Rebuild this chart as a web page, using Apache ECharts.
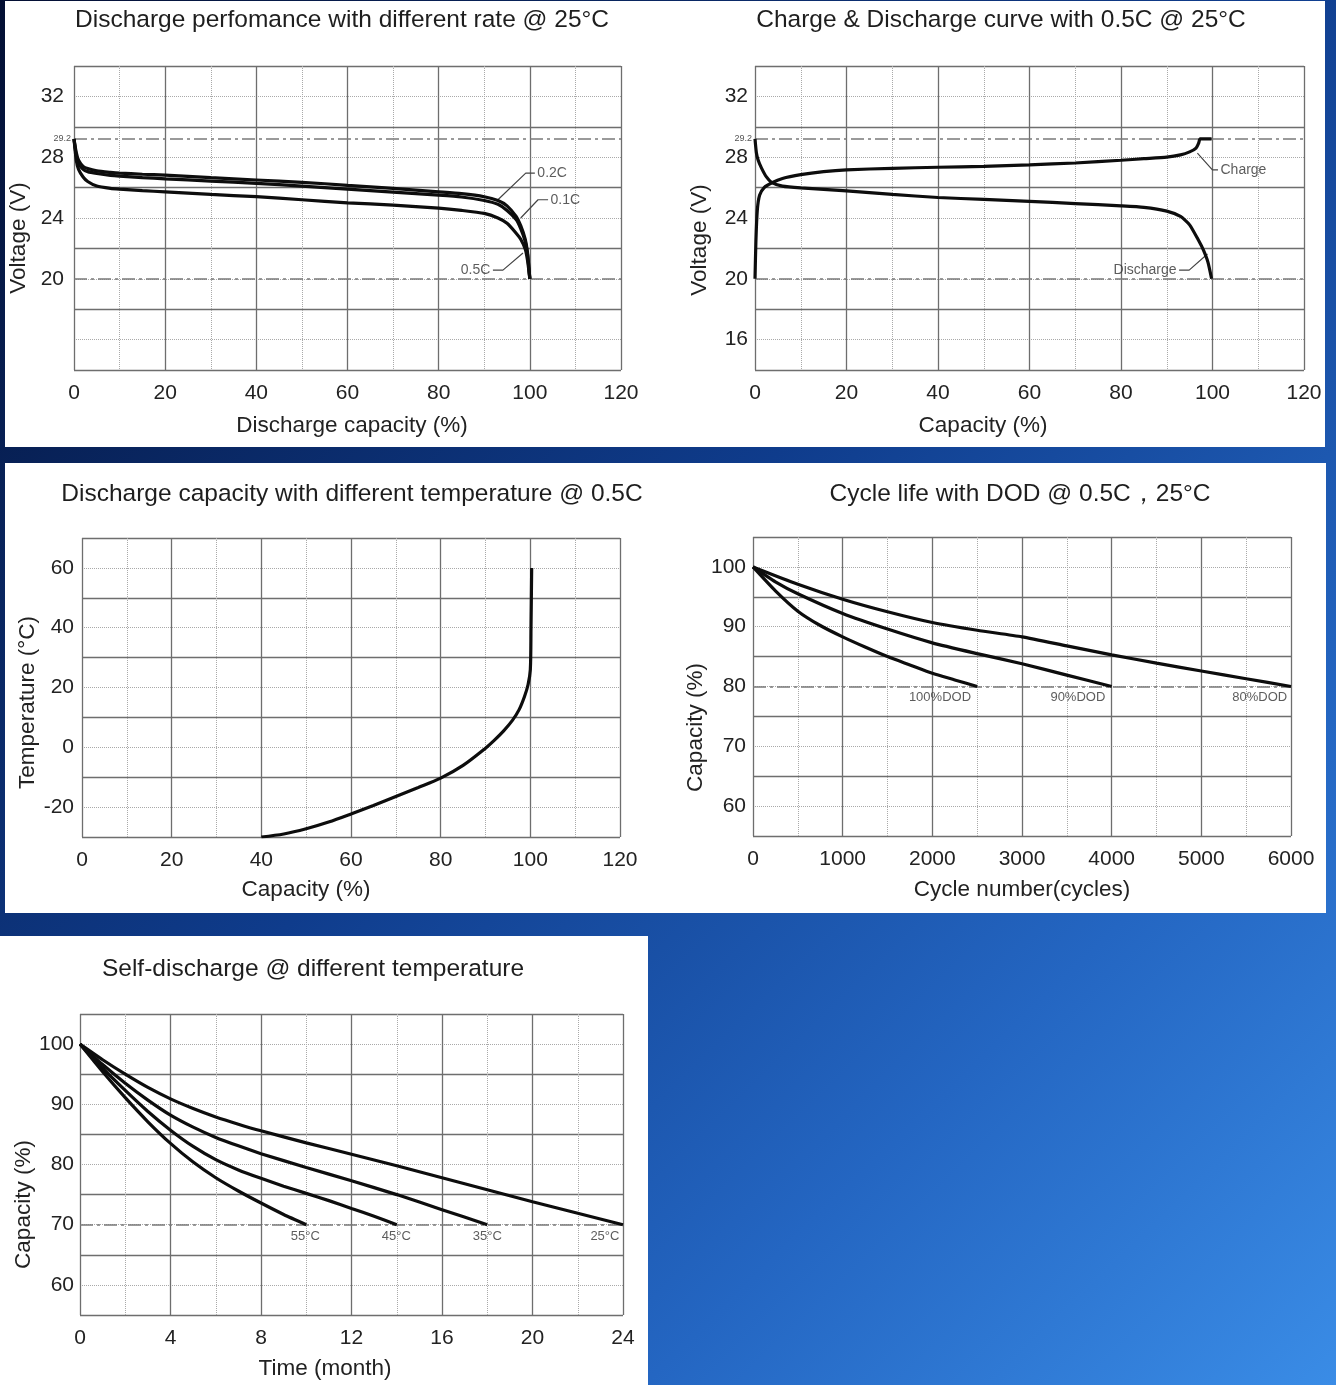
<!DOCTYPE html>
<html><head><meta charset="utf-8">
<script src="https://cdn.jsdelivr.net/npm/echarts@6/dist/echarts.min.js"></script>
<style>html,body{margin:0;padding:0;background:#0b2a66;}#c{width:1336px;height:1385px;}</style>
</head><body><div id="c"></div>
<script>
// ---------- Panel 1: discharge performance with different rate ----------
const rateCap = [0, 0.5, 1, 2, 3, 5, 8, 10, 15, 20, 30, 40, 50, 60, 70, 80, 85, 90, 93, 95, 97, 98, 99, 99.5, 100];
const rate02V = [29.2, 28.3, 27.8, 27.4, 27.25, 27.1, 27.0, 26.95, 26.88, 26.82, 26.65, 26.5, 26.35, 26.15, 25.95, 25.72, 25.6, 25.4, 25.15, 24.8, 24.1, 23.5, 22.6, 21.7, 20];
const rate01V = [29.2, 28.1, 27.6, 27.2, 27.05, 26.93, 26.8, 26.75, 26.66, 26.58, 26.43, 26.28, 26.1, 25.9, 25.7, 25.5, 25.38, 25.15, 24.9, 24.5, 23.9, 23.3, 22.45, 21.6, 20];
const rate05V = [29.2, 27.8, 27.2, 26.7, 26.4, 26.1, 25.95, 25.9, 25.8, 25.72, 25.55, 25.4, 25.2, 25.0, 24.85, 24.65, 24.5, 24.3, 24.0, 23.65, 23.0, 22.6, 21.95, 21.2, 20];
const leader02 = [[101.1, 26.95], [99.1, 26.95], [93.0, 25.2]];
const leader01 = [[104.0, 25.2], [101.8, 25.2], [98.0, 24.0]];
const leader05 = [[91.9, 20.57], [94.1, 20.57], [98.5, 21.7]];
const voltTicks1 = [20, 24, 28, 32];

// ---------- Panel 2: charge & discharge curve ----------
const chgCap = [0, 0.2, 0.5, 1, 2, 3.6, 6, 10, 15, 20, 30, 40, 50, 60, 70, 80, 85, 90, 93, 95, 96.4, 97, 97.3, 99.8];
const chgV = [20, 22.5, 24.5, 25.5, 26.0, 26.3, 26.6, 26.85, 27.05, 27.17, 27.27, 27.34, 27.4, 27.5, 27.62, 27.8, 27.9, 28.0, 28.15, 28.35, 28.6, 28.95, 29.2, 29.2];
const dchCap = [0, 0.3, 0.7, 1.4, 2.5, 3.6, 6, 10, 20, 30, 40, 50, 60, 70, 80, 85, 90, 93, 95, 97, 98, 99, 99.8];
const dchV = [29.2, 28.3, 27.8, 27.3, 26.7, 26.35, 26.1, 25.98, 25.78, 25.55, 25.35, 25.22, 25.1, 24.95, 24.8, 24.7, 24.45, 24.1, 23.55, 22.5, 21.9, 21.1, 20];
const chargeLeader = [[101.2, 27.17], [99.98, 27.17], [96.7, 28.27]];
const dischargeLeader = [[92.7, 20.57], [94.9, 20.57], [98.9, 21.63]];
const voltTicks2 = [16, 20, 24, 28, 32];

// ---------- Panel 3: capacity vs temperature ----------
const tempCap = [40, 45, 50, 55, 60, 65, 70, 75, 80, 85, 90, 92, 94, 96, 97.5, 98.7, 99.5, 100, 100.15, 100.3];
const tempC = [-30, -29, -27.25, -25, -22.3, -19.45, -16.45, -13.45, -10.3, -6.05, -0.3, 2.4, 5.4, 9.0, 12.6, 17, 21, 26, 40, 60];
const tempTicks = [-20, 0, 20, 40, 60];

// ---------- Panel 4: cycle life with DOD ----------
const dod100Cyc = [0, 250, 500, 750, 1000, 1250, 1500, 1750, 2000, 2250, 2500];
const dod100Cap = [100, 96, 92.6, 90.2, 88.3, 86.6, 85, 83.6, 82.2, 81.1, 80];
const dod90Cyc = [0, 250, 500, 1000, 1500, 2000, 2500, 3000, 3500, 4000];
const dod90Cap = [100, 97.5, 95.5, 92.2, 89.6, 87.3, 85.5, 83.8, 81.9, 80];
const dod80Cyc = [0, 500, 1000, 1500, 2000, 2500, 3000, 3500, 4000, 4500, 5000, 5500, 6000];
const dod80Cap = [100, 97.1, 94.6, 92.5, 90.7, 89.4, 88.3, 86.8, 85.3, 83.9, 82.6, 81.3, 80];
const dodLabels = [['100%DOD', 2085, 78.1], ['90%DOD', 3623, 78.1], ['80%DOD', 5652, 78.1]];
const capTicks = [60, 70, 80, 90, 100];

// ---------- Panel 5: self-discharge ----------
const t25Month = [0, 1, 2, 3, 4, 5, 6, 7, 8, 10, 12, 14, 16, 18, 20, 22, 24];
const t25Cap = [100, 97.4, 95.0, 92.8, 90.9, 89.3, 87.9, 86.7, 85.6, 83.6, 81.7, 79.8, 77.8, 75.8, 73.8, 71.9, 70];
const t35Month = [0, 1, 2, 3, 4, 5, 6, 7, 8, 10, 12, 14, 16, 18];
const t35Cap = [100, 96.6, 93.5, 90.7, 88.2, 86.2, 84.5, 83.1, 81.8, 79.5, 77.3, 75.0, 72.5, 70];
const t45Month = [0, 1, 2, 3, 4, 5, 6, 7, 8, 9, 10, 11, 12, 13, 14];
const t45Cap = [100, 96.0, 92.3, 88.8, 85.7, 83.0, 80.8, 79.1, 77.7, 76.4, 75.2, 74.0, 72.7, 71.4, 70];
const t55Month = [0, 1, 2, 3, 4, 5, 6, 7, 8, 9, 10];
const t55Cap = [100, 95.4, 91.1, 87.1, 83.5, 80.4, 77.8, 75.6, 73.6, 71.7, 70];
const tempLabels = [['55°C', 9.96, 68.0], ['45°C', 13.98, 68.0], ['35°C', 18.0, 68.0], ['25°C', 23.2, 68.0]];

const titles = [
  ['Discharge perfomance with different rate @ 25°C', 342, 20],
  ['Charge & Discharge curve with 0.5C @ 25°C', 1001, 20],
  ['Discharge capacity with different temperature @ 0.5C', 352, 494],
  ['Cycle life with DOD @ 0.5C，25°C', 1020, 494],
  ['Self-discharge @ different temperature', 313, 969]
];

// ---------- build ----------
const FONT = '"Liberation Sans", Arial, Helvetica, sans-serif';
const SOLID = '#6e6e6e', DOT = '#a9a9a9', INK = '#0d0d0d', CLEAR = 'rgba(0,0,0,0)';
const grids = [
  {left: 74, top: 66, width: 547, height: 304},
  {left: 755, top: 66, width: 549, height: 304},
  {left: 82, top: 538, width: 538, height: 299},
  {left: 753, top: 537, width: 538, height: 299},
  {left: 80, top: 1014, width: 543, height: 301}
].map(g => Object.assign({containLabel: false, outerBoundsMode: 'none'}, g));
const xAxes = [], yAxes = [], series = [];
const txt = {fontFamily: FONT, color: '#222', fontSize: 21};
const nameTxt = {fontFamily: FONT, color: '#222', fontSize: 22.5};

function panel(gi, xc, yc) {
  xAxes.push({
    type: 'value', gridIndex: gi, position: 'bottom', min: xc.min, max: xc.max, interval: xc.interval,
    axisLine: {show: false}, axisTick: {show: false},
    axisLabel: Object.assign({margin: 13, hideOverlap: false, showMinLabel: true, showMaxLabel: true,
      formatter: v => String(v)}, txt),
    splitLine: {show: true, lineStyle: {color: SOLID, width: 1.3}},
    minorTick: {show: false, splitNumber: 2},
    minorSplitLine: {show: true, lineStyle: {color: DOT, width: 1, type: 'dotted'}},
    name: xc.name, nameLocation: 'middle', nameGap: xc.gap,
    nameTextStyle: Object.assign({padding: xc.pad}, nameTxt)
  });
  const yi = yAxes.length;
  yAxes.push({
    type: 'value', gridIndex: gi, position: 'left', offset: 0, min: yc.min, max: yc.max, interval: yc.interval,
    axisLine: {show: false}, axisTick: {show: false}, axisLabel: {show: false},
    splitLine: {show: true, lineStyle: {color: [SOLID, CLEAR], width: 1.3}}
  });
  yAxes.push({
    type: 'value', gridIndex: gi, position: 'left', offset: 0, min: yc.min, max: yc.max, interval: yc.interval,
    axisLine: {show: false}, axisTick: {show: false},
    axisLabel: Object.assign({margin: yc.margin, showMinLabel: true, showMaxLabel: true, hideOverlap: false,
      formatter: v => (yc.labels.indexOf(v) >= 0 ? String(v) : '')}, txt),
    splitLine: {show: true, lineStyle: {color: [CLEAR, DOT], width: 1, type: 'dotted'}},
    name: yc.name, nameLocation: 'middle', nameRotate: 90, nameGap: yc.gap,
    nameTextStyle: Object.assign({padding: yc.pad}, nameTxt)
  });
  return {xi: gi, yi: yi + 1};
}
const zip = (xs, ys) => xs.map((x, i) => [x, ys[i]]);
function curve(ax, name, xs, ys, extra) {
  return Object.assign({
    type: 'line', name: name, xAxisIndex: ax.xi, yAxisIndex: ax.yi, data: zip(xs, ys),
    symbol: 'none', showSymbol: false, smooth: 0.2, silent: true, z: 5,
    lineStyle: {color: INK, width: 3.2}
  }, extra || {});
}
function leader(ax, pts) {
  return {type: 'line', xAxisIndex: ax.xi, yAxisIndex: ax.yi, data: pts, symbol: 'none', silent: true, z: 4,
    lineStyle: {color: '#444', width: 1.2}};
}
function labels(ax, items, pos, size) {
  return {type: 'scatter', xAxisIndex: ax.xi, yAxisIndex: ax.yi, symbolSize: 1, silent: true, z: 6,
    itemStyle: {color: CLEAR},
    label: {show: true, formatter: '{b}', position: pos, distance: 2, fontFamily: FONT, fontSize: size, color: '#333'},
    data: items.map(it => ({name: it[0], value: [it[1], it[2]]}))};
}
const dashDot = {type: [13, 4, 3, 4], color: '#7a7a7a', width: 1.5};
function refLines(vals, lbl) {
  return {symbol: 'none', silent: true, lineStyle: dashDot, label: {show: false},
    data: vals.map(v => (v === lbl
      ? {yAxis: v, label: {show: true, formatter: String(v), position: 'start', distance: 3, fontSize: 9, color: '#555', fontFamily: FONT}}
      : {yAxis: v}))};
}

// Panel 1
const a1 = panel(0,
  {min: 0, max: 120, interval: 20, name: 'Discharge capacity (%)', gap: 44, pad: [0, 0, 0, 9]},
  {min: 14, max: 34, interval: 2, labels: voltTicks1, margin: 10, name: 'Voltage (V)', gap: 44, pad: [0, 40, 0, 0]});
series.push(curve(a1, '0.2C', rateCap, rate02V, {markLine: refLines([29.2, 20], 29.2)}));
series.push(curve(a1, '0.1C', rateCap, rate01V));
series.push(curve(a1, '0.5C', rateCap, rate05V));
series.push(leader(a1, leader02), leader(a1, leader01), leader(a1, leader05));
series.push(labels(a1, [['0.2C', leader02[0][0], leader02[0][1]], ['0.1C', leader01[0][0], leader01[0][1]]], 'right', 14));
series.push(labels(a1, [['0.5C', leader05[0][0], leader05[0][1]]], 'left', 14));

// Panel 2
const a2 = panel(1,
  {min: 0, max: 120, interval: 20, name: 'Capacity (%)', gap: 44, pad: [0, 93, 0, 0]},
  {min: 14, max: 34, interval: 2, labels: voltTicks2, margin: 7, name: 'Voltage (V)', gap: 44, pad: [0, 44, 0, 0]});
series.push(curve(a2, 'Charge', chgCap, chgV, {markLine: refLines([29.2, 20], 29.2)}));
series.push(curve(a2, 'Discharge', dchCap, dchV));
series.push(leader(a2, chargeLeader), leader(a2, dischargeLeader));
series.push(labels(a2, [['Charge', chargeLeader[0][0], chargeLeader[0][1]]], 'right', 14));
series.push(labels(a2, [['Discharge', dischargeLeader[0][0], dischargeLeader[0][1]]], 'left', 14));

// Panel 3
const a3 = panel(2,
  {min: 0, max: 120, interval: 20, name: 'Capacity (%)', gap: 41, pad: [0, 90, 0, 0]},
  {min: -30, max: 70, interval: 10, labels: tempTicks, margin: 8, name: 'Temperature (°C)', gap: 43, pad: [0, 30, 0, 0]});
series.push(curve(a3, 'Temperature', tempCap, tempC, {smooth: 0.3}));

// Panel 4
const a4 = panel(3,
  {min: 0, max: 6000, interval: 1000, name: 'Cycle number(cycles)', gap: 42, pad: 0},
  {min: 55, max: 105, interval: 5, labels: capTicks, margin: 7, name: 'Capacity (%)', gap: 42, pad: [0, 82, 0, 0]});
series.push(curve(a4, '100%DOD', dod100Cyc, dod100Cap, {markLine: refLines([80], null)}));
series.push(curve(a4, '90%DOD', dod90Cyc, dod90Cap));
series.push(curve(a4, '80%DOD', dod80Cyc, dod80Cap));
series.push(labels(a4, dodLabels, 'inside', 13));

// Panel 5
const a5 = panel(4,
  {min: 0, max: 24, interval: 4, name: 'Time (month)', gap: 42, pad: [0, 53, 0, 0]},
  {min: 55, max: 105, interval: 5, labels: capTicks, margin: 6, name: 'Capacity (%)', gap: 44, pad: [0, 80, 0, 0]});
series.push(curve(a5, '25°C', t25Month, t25Cap, {markLine: refLines([70], null)}));
series.push(curve(a5, '35°C', t35Month, t35Cap));
series.push(curve(a5, '45°C', t45Month, t45Cap));
series.push(curve(a5, '55°C', t55Month, t55Cap));
series.push(labels(a5, tempLabels, 'inside', 13));

const graphics = [
  {type: 'rect', z: -20, silent: true, shape: {x: 0, y: 0, width: 1336, height: 1385},
    style: {fill: new echarts.graphic.LinearGradient(0, 0, 1, 1, [
      {offset: 0, color: '#030f33'}, {offset: 0.45, color: '#0f3c8c'}, {offset: 0.75, color: '#2466c2'}, {offset: 1, color: '#3a8ce6'}])}},
  {type: 'rect', z: -19, silent: true, shape: {x: 5, y: 1, width: 1320, height: 446}, style: {fill: '#fff'}},
  {type: 'rect', z: -19, silent: true, shape: {x: 5, y: 463, width: 1321, height: 450}, style: {fill: '#fff'}},
  {type: 'rect', z: -19, silent: true, shape: {x: 0, y: 936, width: 648, height: 449}, style: {fill: '#fff'}}
];
titles.forEach(t => graphics.push({type: 'text', z: 10, silent: true, x: t[1], y: t[2],
  style: {text: t[0], fontFamily: FONT, fontSize: 24.5, fill: '#1e1e1e', align: 'center', verticalAlign: 'middle'}}));

const chart = echarts.init(document.getElementById('c'), null, {renderer: 'canvas'});
chart.setOption({
  animation: false,
  grid: grids,
  xAxis: xAxes,
  yAxis: yAxes,
  series: series,
  graphic: graphics
});
</script></body></html>
